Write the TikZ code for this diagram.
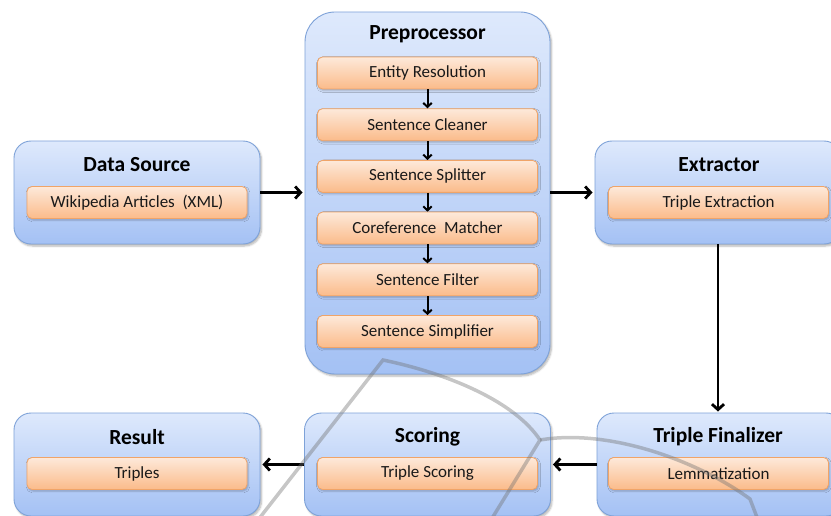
\documentclass[tikz,border=0pt]{standalone}
\usepackage{fontspec}
\setmainfont{Carlito}
\usetikzlibrary{arrows.meta,shadows.blur}
\definecolor{boxtop}{HTML}{DEE9FC}
\definecolor{boxbot}{HTML}{A4C1F4}
\definecolor{boxline}{HTML}{7EA2D8}
\definecolor{intop}{HTML}{FDE9DA}
\definecolor{inbot}{HTML}{FBBB8A}
\definecolor{inline}{HTML}{F0A468}
\definecolor{wmark}{HTML}{707070}
\begin{document}
\begin{tikzpicture}[x=1pt,y=-1pt,
  outerbox/.style={draw=boxline, line width=0.9pt, rounded corners=17pt,
    top color=boxtop, bottom color=boxbot, minimum width=246pt, minimum height=103pt,
    inner sep=0pt, blur shadow={shadow blur steps=6, shadow xshift=1.5pt, shadow yshift=-2pt, shadow opacity=30}},
  prebox/.style={outerbox, rounded corners=30pt, minimum height=362pt, minimum width=245pt},
  titletext/.style={font=\fontsize{21.5}{25}\selectfont\bfseries, text=black, inner sep=0pt},
  innerbox/.style={draw=inline, line width=0.8pt, rounded corners=5pt,
    top color=intop, bottom color=inbot, minimum width=220pt, minimum height=32pt,
    inner sep=0pt, font=\fontsize{17}{20}\selectfont, text=black!90,
    blur shadow={shadow blur steps=4, shadow xshift=1pt, shadow yshift=-1.5pt, shadow opacity=25}},
  bigarrow/.style={draw=black, line width=2.8pt, -{Straight Barb[length=5.5pt,width=12pt]}},
  smallarrow/.style={draw=black, line width=2pt, -{Straight Barb[length=4pt,width=8.5pt]}},
  wmline/.style={draw=wmark, line width=3.5pt, opacity=0.4, line join=miter}
]
\useasboundingbox (0,0) rectangle (831,516);
\clip (0,0) rectangle (831,516);

% outer boxes
\node[outerbox] (ds) at (137,192.5) {};
\node[prebox] (pre) at (427.5,193) {};
\node[outerbox] (ext) at (718,192.5) {};
\node[outerbox] (res) at (137,464.5) {};
\node[outerbox] (sc) at (427.5,464.5) {};
\node[outerbox] (tf) at (720,464.5) {};

% titles
\node[titletext] (dsT) at (137,165) {Data Source};
\node[titletext] (preT) at (427.5,34) {Preprocessor};
\node[titletext] (extT) at (719,165) {Extractor};
\node[titletext] (resT) at (137,437) {Result};
\node[titletext] (scT) at (427.5,437) {Scoring};
\node[titletext] (tfT) at (718,437) {Triple Finalizer};

% inner boxes
\node[innerbox] (dsI) at (137,202.5) {Wikipedia Articles\ \ (XML)};
\node[innerbox] (extI) at (718.5,202.5) {Triple Extraction};
\node[innerbox] (resI) at (137,473.5) {Triples};
\node[innerbox] (scI) at (427.5,473.5) {Triple Scoring};
\node[innerbox] (tfI) at (718.5,473.5) {Lemmatization};

\node[innerbox] (p1) at (427.5,73) {Entity Resolution};
\node[innerbox] (p2) at (427.5,124.7) {Sentence Cleaner};
\node[innerbox] (p3) at (427.5,176.4) {Sentence Splitter};
\node[innerbox] (p4) at (427.5,228.1) {Coreference\ \ Matcher};
\node[innerbox] (p5) at (427.5,279.8) {Sentence Filter};
\node[innerbox] (p6) at (427.5,331.5) {Sentence Simplifier};

% inner arrows
\draw[smallarrow] (p1.south) -- (p2.north);
\draw[smallarrow] (p2.south) -- (p3.north);
\draw[smallarrow] (p3.south) -- (p4.north);
\draw[smallarrow] (p4.south) -- (p5.north);
\draw[smallarrow] (p5.south) -- (p6.north);

% main arrows
\draw[bigarrow, shorten >=2pt] (ds.east) -- (pre.west |- ds.east);
\draw[bigarrow, shorten >=2pt] (pre.east |- ext.west) -- (ext.west);
\draw[bigarrow, shorten >=1pt] (ext.south) -- (ext.south |- tf.north);
\draw[bigarrow, shorten >=2pt] (tf.west) -- (sc.east);
\draw[bigarrow, shorten >=2pt] (sc.west) -- (res.east);

% watermark
\draw[wmline] (258,520) -- (383,360) .. controls (450,374) and (515,402) .. (540,440) -- (491,520);
\draw[wmline] (540,440) .. controls (610,428) and (700,462) .. (750,499) -- (758,520);
\end{tikzpicture}
\end{document}
